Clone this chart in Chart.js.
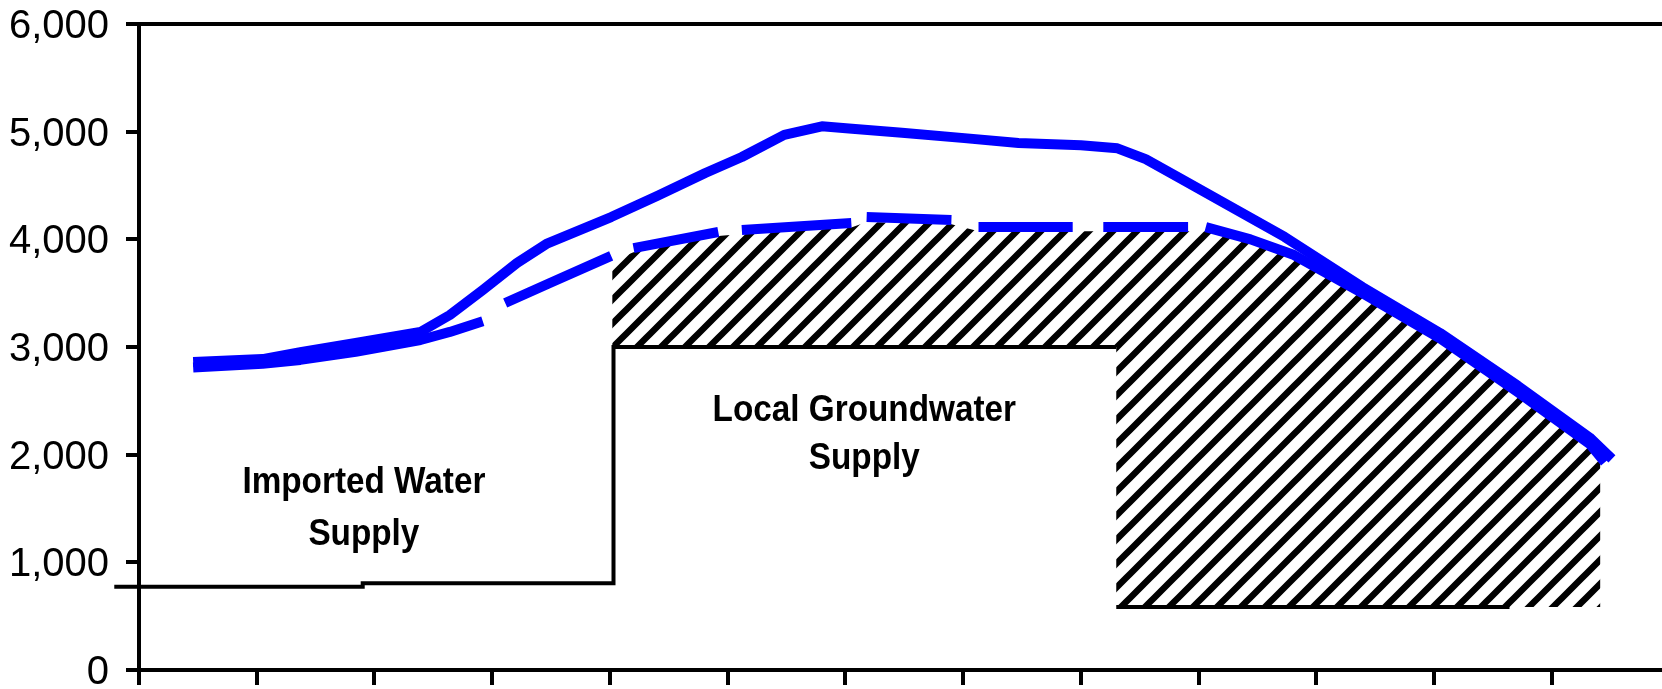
<!DOCTYPE html>
<html>
<head>
<meta charset="utf-8">
<title>Water Supply</title>
<script src="https://cdn.jsdelivr.net/npm/chart.js@4.4.1/dist/chart.umd.min.js"></script>
<style>
  html, body { margin: 0; padding: 0; background: #fff; overflow: hidden; }
  canvas { display: block; }
</style>
</head>
<body>
<canvas id="supplyChart" width="1662" height="689"></canvas>
<script>
// x values are in tick units along the unlabeled x axis (0 = y axis, 1 = first tick, ...)
const yTicks = [0, 1000, 2000, 3000, 4000, 5000, 6000];

// solid blue line
const totalX = [0.46, 1.05, 1.37, 1.84, 2.39, 2.64, 2.92, 3.21, 3.46, 4.01, 4.40, 4.81, 5.12, 5.48, 5.80, 6.03, 6.48, 7.01, 7.47, 8.00, 8.31, 8.55, 8.87, 9.73, 10.39, 11.05, 11.71, 12.32, 12.51];
const totalY = [2860, 2888, 2953, 3037, 3139, 3297, 3529, 3780, 3957, 4207, 4402, 4616, 4765, 4970, 5050, 5030, 4990, 4940, 4895, 4873, 4845, 4745, 4551, 4022, 3557, 3130, 2640, 2160, 1960];

// dashed blue line (null = gap between dashes)
const plannedX = [0.46, 1.05, 1.37, 1.84, 2.39, 2.64, 2.92, 3.00, 3.11, 3.49, 4.01, 4.10, 4.20, 4.92, 5.02, 5.12, 6.05, 6.11, 6.18, 6.90, 7.02, 7.13, 7.93, 8.06, 8.19, 8.91, 8.99, 9.06, 9.44, 9.81, 10.39, 11.05, 11.71, 12.32, 12.45];
const plannedY = [2810, 2845, 2880, 2955, 3065, 3140, 3240, null, 3409, 3594, 3846, null, 3919, 4068, null, 4087, 4152, null, 4207, 4180, null, 4114, 4114, null, 4114, 4114, null, 4114, 4000, 3854, 3500, 3080, 2580, 2100, 1930];

// hatched groundwater area (outline, clockwise)
const hatchX = [4.02, 4.20, 4.92, 5.12, 6.05, 6.18, 6.90, 7.13, 8.91, 9.06, 9.44, 9.81, 10.39, 11.05, 11.71, 12.32, 12.41, 12.41, 8.30, 8.30, 4.02];
const hatchY = [3800, 3880, 4030, 4050, 4110, 4160, 4140, 4075, 4075, 4075, 3960, 3810, 3460, 3040, 2540, 2060, 1960, 585, 585, 3000, 3000];

// black boundary lines
const importedX = [-0.21, 1.90, 1.90, 4.03, 4.03, 8.30];
const importedY = [774, 774, 805, 805, 3000, 3000];
const localX = [8.30, 11.64];
const localY = [585, 585];

const areaNotes = [
    { lines: ['Imported Water', 'Supply'], x: 1.91, y: [1644, 1161] },
    { lines: ['Local Groundwater', 'Supply'], x: 6.16, y: [2313, 1867] }
];

const pts = (xs, ys) => xs.map((x, i) => ({ x: x, y: ys[i] }));

// is the narrow face installed?
function fontAvailable(name) {
    const g = document.createElement('canvas').getContext('2d');
    const probe = '6,000 mmmWWWiii';
    g.font = '40px monospace';
    const base = g.measureText(probe).width;
    g.font = `40px "${name}", monospace`;
    return g.measureText(probe).width !== base;
}
const narrow = fontAvailable('Liberation Sans Narrow');
const tickFont = narrow
    ? { family: '"Liberation Sans Narrow", "Liberation Sans", Arial', size: 44, lineHeight: 1 }
    : { family: '"Liberation Sans", Arial', size: 40, lineHeight: 1 };

function hatchPattern() {
    const p = 24;
    const c = document.createElement('canvas');
    c.width = c.height = p;
    const g = c.getContext('2d');
    g.strokeStyle = '#000';
    g.lineWidth = 6.5;
    g.beginPath();
    g.moveTo(-p, p); g.lineTo(p, -p);
    g.moveTo(-1, p + 1); g.lineTo(p + 1, -1);
    g.moveTo(0, 2 * p); g.lineTo(2 * p, 0);
    g.stroke();
    return g.createPattern(c, 'repeat');
}

const notesPlugin = {
    id: 'areaNotes',
    afterDatasetsDraw(chart) {
        const { ctx, scales } = chart;
        ctx.save();
        ctx.fillStyle = '#000';
        ctx.font = 'bold 37px "Liberation Sans", Arial, sans-serif';
        ctx.textAlign = 'center';
        ctx.textBaseline = 'alphabetic';
        areaNotes.forEach(n => {
            n.lines.forEach((txt, i) => {
                ctx.save();
                ctx.translate(scales.x.getPixelForValue(n.x), scales.y.getPixelForValue(n.y[i]));
                ctx.scale(0.9, 1);
                ctx.fillText(txt, 0, 0);
                ctx.restore();
            });
        });
        ctx.restore();
    }
};

const xMax = 12.935;

new Chart(document.getElementById('supplyChart'), {
    type: 'line',
    data: {
        datasets: [
            {
                label: 'Total',
                data: pts(totalX, totalY),
                borderColor: '#0000ff',
                borderWidth: 10,
                borderJoinStyle: 'round',
                pointRadius: 0,
                fill: false
            },
            {
                label: 'Planned',
                data: pts(plannedX, plannedY),
                borderColor: '#0000ff',
                borderWidth: 10,
                borderJoinStyle: 'round',
                pointRadius: 0,
                fill: false
            },
            {
                label: 'Imported edge',
                data: pts(importedX, importedY),
                borderColor: '#000',
                borderWidth: 4,
                pointRadius: 0,
                fill: false,
                clip: false
            },
            {
                label: 'Local edge',
                data: pts(localX, localY),
                borderColor: '#000',
                borderWidth: 4,
                pointRadius: 0,
                fill: false
            },
            {
                label: 'Local Groundwater',
                data: pts(hatchX, hatchY),
                borderWidth: 0,
                pointRadius: 0,
                backgroundColor: hatchPattern(),
                fill: 'shape'
            }
        ]
    },
    options: {
        responsive: false,
        devicePixelRatio: 1,
        animation: false,
        layout: { padding: { top: 24, bottom: 4, left: 0, right: 0 } },
        plugins: { legend: { display: false }, tooltip: { enabled: false } },
        scales: {
            x: {
                type: 'linear',
                min: 0,
                max: xMax,
                afterFit: s => { s.height = 15; s.paddingLeft = 0; s.paddingRight = 0; },
                ticks: { display: false, stepSize: 1, includeBounds: false },
                grid: { drawOnChartArea: false, color: '#000', lineWidth: 4, tickLength: 15 },
                border: { color: '#000', width: 4 }
            },
            x2: {
                type: 'linear',
                position: 'top',
                min: 0,
                max: xMax,
                afterFit: s => { s.height = 0; s.paddingLeft = 0; s.paddingRight = 0; },
                ticks: { display: false },
                grid: { display: false, drawTicks: false },
                border: { color: '#000', width: 4 }
            },
            y: {
                min: yTicks[0],
                max: yTicks[yTicks.length - 1],
                afterFit: s => { s.width = 139; s.paddingTop = 0; s.paddingBottom = 0; },
                afterBuildTicks: s => { s.ticks = yTicks.map(v => ({ value: v })); },
                ticks: { color: '#000', padding: 17, labelOffset: 3, font: tickFont },
                grid: { drawOnChartArea: false, color: '#000', lineWidth: 4, tickLength: 13 },
                border: { color: '#000', width: 4 }
            }
        }
    },
    plugins: [notesPlugin]
});
</script>
</body>
</html>
